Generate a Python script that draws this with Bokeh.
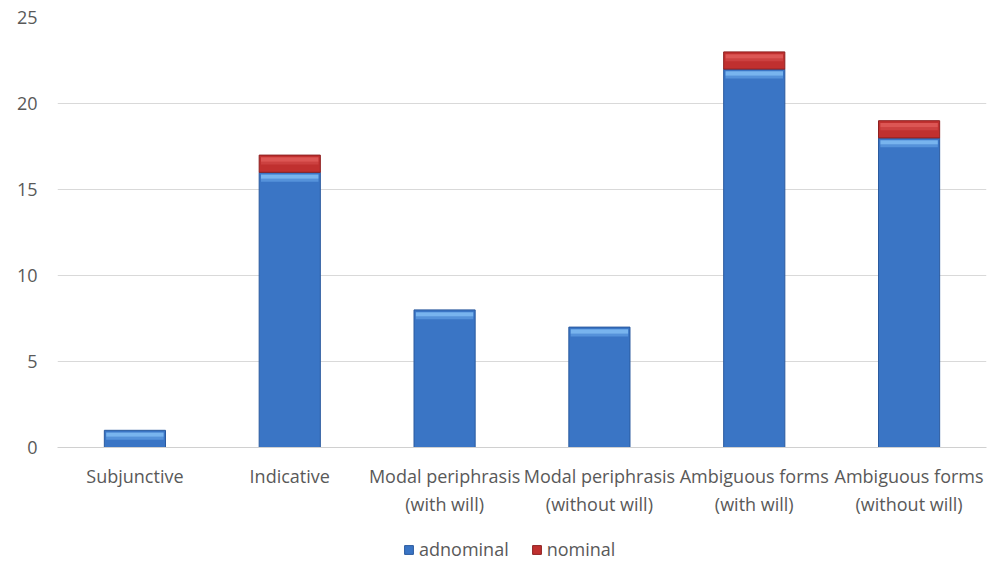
from bokeh.plotting import figure
from bokeh.layouts import column
from bokeh.models import Range1d, FactorRange, Legend, LegendItem, ColumnDataSource
from bokeh.embed import file_html
from bokeh.resources import INLINE

categories = ["Subjunctive", "Indicative", "Modal periphrasis\n(with will)",
              "Modal periphrasis\n(without will)", "Ambiguous forms\n(with will)",
              "Ambiguous forms\n(without will)"]
series = ["adnominal", "nominal"]
adnominal = [1, 16, 8, 7, 22, 18]
nominal = [0, 1, 0, 0, 1, 1]
y_ticks = [0, 5, 10, 15, 20, 25]

FONT = "Open Sans"
TXT = "#595959"
W = 0.395
BLUE = ("#3a75c5", "#78b4ee", "#5592da", "#2a5a9e")
RED = ("#c0302f", "#dc5654", "#cc4140", "#8e2020")

p = figure(x_range=FactorRange(*categories, range_padding=0), y_range=Range1d(0, 25),
           frame_width=929, frame_height=430, output_backend="svg", toolbar_location=None,
           min_border_left=57, min_border_right=2, min_border_top=17, min_border_bottom=70)
p.outline_line_color = None
p.background_fill_color = "white"


def bevel(xs, bottoms, tops, colors):
    """Stacked segment with a lighter bevelled band just under its top edge."""
    base, light, fade, edge = colors
    src = ColumnDataSource(dict(
        x=xs, b=bottoms, t=tops,
        f1=[t - 0.55 for t in tops], f2=[t - 0.38 for t in tops],
        l2=[t - 0.13 for t in tops]))
    p.vbar(x="x", bottom="b", top="t", width=W, source=src,
           fill_color=base, line_color=edge, line_width=1)
    p.vbar(x="x", bottom="f1", top="f2", width=W * 0.94, source=src,
           fill_color=fade, line_color=None)
    p.vbar(x="x", bottom="f2", top="l2", width=W * 0.94, source=src,
           fill_color=light, line_color=None)


# adnominal segments
bevel(categories, [0] * len(categories), adnominal, BLUE)

# nominal segments, drawn only where present
sel = [i for i, n in enumerate(nominal) if n > 0]
bevel([categories[i] for i in sel], [adnominal[i] for i in sel],
      [adnominal[i] + nominal[i] for i in sel], RED)

# axes
p.yaxis.ticker = y_ticks
p.yaxis.axis_line_color = None
p.yaxis.major_tick_line_color = None
p.yaxis.minor_tick_line_color = None
p.yaxis.major_label_text_font = FONT
p.yaxis.major_label_text_font_size = "18px"
p.yaxis.major_label_text_color = TXT
p.yaxis.major_label_standoff = 14

p.xaxis.axis_line_color = "#d0d0d0"
p.xaxis.major_tick_line_color = None
p.xaxis.minor_tick_line_color = None
p.xaxis.major_label_text_font = FONT
p.xaxis.major_label_text_font_size = "18px"
p.xaxis.major_label_text_color = TXT
p.xaxis.major_label_standoff = 10
p.xaxis.major_label_orientation = "horizontal"

p.xgrid.grid_line_color = None
p.ygrid.grid_line_color = "#d9d9d9"

# legend strip under the chart; its swatch renderers sit outside the visible range
leg = figure(width=988, height=44, output_backend="svg", toolbar_location=None,
             x_axis_type=None, y_axis_type=None, min_border=0,
             x_range=Range1d(0, 1), y_range=Range1d(0, 1))
leg.outline_line_color = None
leg.xgrid.visible = False
leg.ygrid.visible = False
items = []
for name, colors in zip(series, [BLUE, RED]):
    r = leg.vbar(x=[-10], top=[-10], bottom=[-11], width=0.1,
                 fill_color=colors[0], line_color=colors[3])
    items.append(LegendItem(label=name, renderers=[r]))
legend = Legend(items=items, orientation="horizontal", location=(346, 2),
                label_text_font=FONT, label_text_font_size="18px",
                label_text_color=TXT, glyph_width=11, glyph_height=11,
                spacing=22, border_line_color=None, background_fill_alpha=0,
                margin=0, padding=2, label_standoff=5, label_height=20)
leg.add_layout(legend, "center")

open("out.html", "w").write(file_html(column(p, leg, spacing=0), INLINE))
